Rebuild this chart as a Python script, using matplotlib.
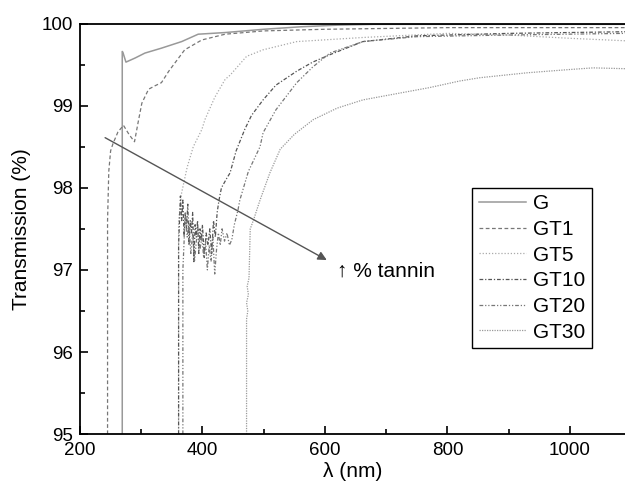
import matplotlib
matplotlib.use("Agg")
import matplotlib.pyplot as plt

plt.rcParams['font.family'] = ['Liberation Sans', 'DejaVu Sans']

# wavelength (nm) / transmission (%)
g_x = [269, 269, 270, 275, 290, 306, 333, 366, 393, 437, 500, 560, 620, 680, 800, 1090]
g_y = [95, 99.66, 99.65, 99.53, 99.58, 99.64, 99.70, 99.78, 99.87, 99.89, 99.93, 99.96, 99.98, 99.99, 99.99, 99.99]

gt1_x = [245, 245, 247, 250, 254, 262, 271, 280, 289, 295, 301, 312, 322, 333, 345, 355,
         371, 399, 437, 500, 600, 800, 1090]
gt1_y = [95, 97.6, 98.2, 98.45, 98.54, 98.68, 98.76, 98.65, 98.56, 98.8, 99.03, 99.2, 99.24,
         99.28, 99.42, 99.52, 99.68, 99.8, 99.87, 99.91, 99.93, 99.95, 99.95]

gt5_x = [361, 361, 366, 375, 385, 399, 404, 420, 437, 445, 472, 499, 554, 662, 800, 900, 1000, 1090]
gt5_y = [95, 97.6, 97.94, 98.25, 98.5, 98.71, 98.83, 99.1, 99.32, 99.37, 99.6, 99.68, 99.78,
         99.83, 99.88, 99.86, 99.82, 99.79]

gt10_x = [361, 361, 364, 366, 368, 370, 372, 374, 376, 378, 380, 382, 384, 386, 388, 390, 392,
          394, 396, 398, 400, 403, 406, 409, 412, 415, 418, 421, 424, 427, 431, 440, 445, 455,
          469, 480, 499, 520, 554, 580, 608, 662, 750, 900, 1090]
gt10_y = [95, 97.3, 97.9, 97.6, 97.85, 97.4, 97.7, 97.5, 97.8, 97.3, 97.6, 97.45, 97.7, 97.1,
          97.55, 97.4, 97.6, 97.2, 97.5, 97.35, 97.55, 97.15, 97.45, 97.3, 97.5, 97.2, 97.6,
          97.4, 97.7, 97.85, 98.0, 98.12, 98.18, 98.45, 98.71, 98.88, 99.07, 99.25, 99.42,
          99.53, 99.62, 99.78, 99.85, 99.88, 99.9]

gt20_x = [368, 368, 372, 375, 378, 381, 384, 387, 390, 393, 396, 399, 402, 405, 408, 411, 414,
          417, 420, 423, 426, 429, 432, 436, 440, 444, 448, 452, 458, 461, 475, 494, 499, 520,
          554, 580, 608, 662, 750, 900, 1090]
gt20_y = [95, 97.0, 97.7, 97.4, 97.55, 97.2, 97.45, 97.1, 97.35, 97.5, 97.25, 97.4, 97.15,
          97.35, 97.0, 97.3, 97.1, 97.4, 96.95, 97.25, 97.45, 97.3, 97.5, 97.35, 97.45, 97.3,
          97.37, 97.55, 97.73, 97.85, 98.2, 98.5, 98.67, 98.95, 99.28, 99.47, 99.64, 99.78,
          99.84, 99.86, 99.88]

gt30_x = [472, 472, 474, 472, 475, 473, 476, 477, 478, 483, 494, 510, 527, 550, 581, 620, 662,
          720, 771, 820, 853, 930, 1000, 1038, 1090]
gt30_y = [95, 96.4, 96.5, 96.6, 96.7, 96.8, 96.9, 97.2, 97.5, 97.6, 97.85, 98.18, 98.47, 98.65,
          98.83, 98.97, 99.07, 99.15, 99.22, 99.3, 99.34, 99.4, 99.44, 99.46, 99.45]

fig = plt.figure(figsize=(6.25, 4.9), dpi=100)
ax = fig.add_axes([0.128, 0.114, 0.872, 0.838])

ax.plot(g_x, g_y, color='#999999', linestyle='-', lw=1.1, label='G')
ax.plot(gt1_x, gt1_y, color='#777777', linestyle=(0, (3, 2)), lw=0.9, label='GT1')
ax.plot(gt5_x, gt5_y, color='#aaaaaa', linestyle=(0, (1, 1.5)), lw=0.9, label='GT5')
ax.plot(gt10_x, gt10_y, color='#555555', linestyle=(0, (3, 1.5, 1, 1.5)), lw=0.9, label='GT10')
ax.plot(gt20_x, gt20_y, color='#777777', linestyle=(0, (3, 1.5, 1, 1.5, 1, 1.5)), lw=0.9, label='GT20')
ax.plot(gt30_x, gt30_y, color='#999999', linestyle=(0, (1, 1)), lw=0.9, label='GT30')

# arrow showing increasing tannin content
ax.annotate('', xy=(603, 97.12), xytext=(241, 98.61),
            arrowprops=dict(arrowstyle='-|>', color='#555555', lw=1.0,
                            mutation_scale=13, shrinkA=0, shrinkB=0))
ax.text(620, 96.98, '↑ % tannin', fontsize=15, va='center', ha='left')

ax.set_xlim(200, 1090)
ax.set_ylim(95, 100)
ax.set_xticks([200, 400, 600, 800, 1000])
ax.set_xticks([300, 500, 700, 900], minor=True)
ax.set_yticks([95, 96, 97, 98, 99, 100])
ax.set_yticks([95.5, 96.5, 97.5, 98.5, 99.5], minor=True)
ax.tick_params(which='both', direction='in', labelsize=13.5, width=1.2)
ax.tick_params(which='major', length=6)
ax.tick_params(which='minor', length=3.5)
ax.tick_params(axis='x', pad=6)
ax.tick_params(axis='y', pad=5)
for s in ['left', 'bottom', 'top']:
    ax.spines[s].set_linewidth(1.3)
ax.spines['right'].set_visible(False)

ax.set_xlabel('λ (nm)', fontsize=15, labelpad=2)
ax.set_ylabel('Transmission (%)', fontsize=15, labelpad=8)

leg = ax.legend(loc='upper right', bbox_to_anchor=(0.939, 0.599), borderaxespad=0,
                fancybox=False, fontsize=15, handlelength=2.25, labelspacing=0.32,
                borderpad=0.3, handletextpad=0.37, framealpha=1)
leg.get_frame().set_edgecolor('black')
leg.get_frame().set_linewidth(1.0)

fig.savefig('out.png', dpi=100)
